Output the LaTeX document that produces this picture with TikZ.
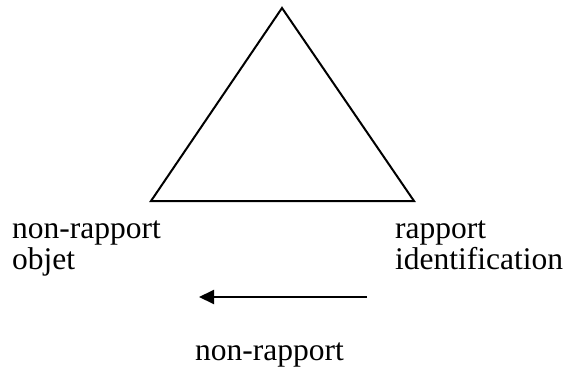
\documentclass[tikz,border=0pt]{standalone}
\usepackage{fontspec}
\setmainfont{Liberation Serif}
\usetikzlibrary{arrows.meta}
\begin{document}
\begin{tikzpicture}[x=1pt,y=-1pt,
  lbl/.style={anchor=base west,inner sep=0pt,font=\fontsize{31.5}{33}\selectfont,align=left},
  edge/.style={line width=2pt,line join=miter}]
\useasboundingbox (0,0) rectangle (568,369);
\coordinate (top) at (282,8);
\coordinate (bl) at (151,201);
\coordinate (br) at (414,201);
\draw[edge] (top) -- (bl) -- (br) -- cycle;
\node[lbl] (l1) at (12,238) {non-rapport};
\node[lbl] (l2) at (12,269) {objet};
\node[lbl] (r1) at (395,238) {rapport};
\node[lbl] (r2) at (395,269) {identification};
\coordinate (as) at (367,297);
\coordinate (ae) at (199,297);
\draw[line width=2pt,-{Triangle[length=15pt,width=14pt]}] (as) -- (ae);
\node[lbl] (b1) at (195,360) {non-rapport};
\end{tikzpicture}
\end{document}
